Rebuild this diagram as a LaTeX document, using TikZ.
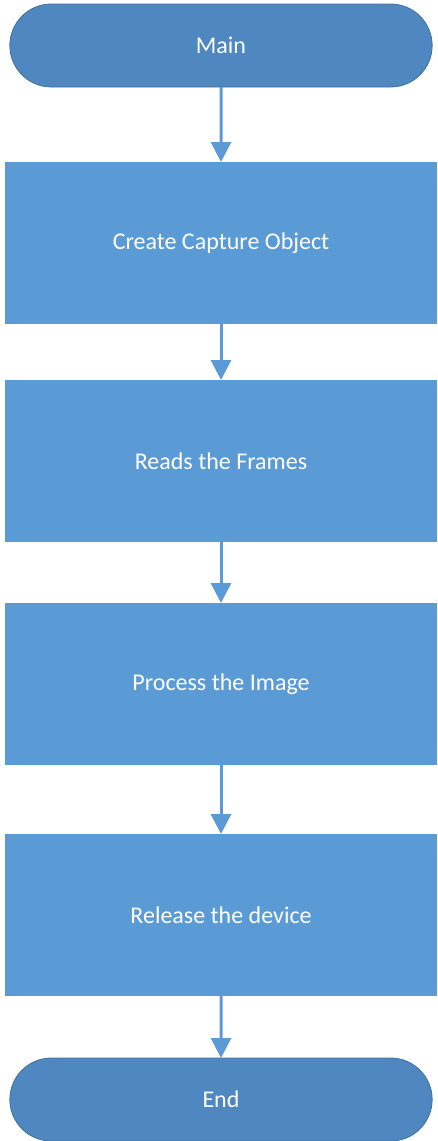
\documentclass[tikz,border=0pt]{standalone}
\usepackage{fontspec}
\setmainfont{Carlito}
\usetikzlibrary{positioning, arrows.meta, shapes.misc}

\definecolor{stepblue}{RGB}{91,155,213}
\definecolor{termblue}{RGB}{79,136,192}
\definecolor{termline}{RGB}{65,113,156}

\begin{document}
\begin{tikzpicture}[
    x=1pt, y=1pt,
    >={Triangle[width=20pt, length=20pt]},
    % Styles
    terminal/.style={rounded rectangle, draw=termline, line width=0.8pt, fill=termblue, minimum width=429pt, minimum height=83pt, outer sep=0pt, text=white, font=\fontsize{24}{28}\selectfont},
    stepbox/.style={rectangle, fill=stepblue, minimum width=432pt, minimum height=162pt, outer sep=0pt, text=white, font=\fontsize{24}{28}\selectfont},
    flow/.style={->, line width=3pt, draw=stepblue}
    ]

    % Fix the page to the reference size
    \useasboundingbox (0,0) rectangle (437,-1141);

    % 1. Start
    \node (main) [terminal] at (221,-45.5) {Main};

    % 2. Steps
    \node (capture) [stepbox, below=75pt of main] {Create Capture Object};
    \node (frames) [stepbox, below=56pt of capture] {Reads the Frames};
    \node (process) [stepbox, below=61pt of frames] {Process the Image};
    \node (release) [stepbox, below=69pt of process] {Release the device};

    % 3. Stop
    \node (end) [terminal, below=62pt of release] {End};

    % Connections / Arrows
    \draw[flow] (main) -- (capture);
    \draw[flow] (capture) -- (frames);
    \draw[flow] (frames) -- (process);
    \draw[flow] (process) -- (release);
    \draw[flow] (release) -- (end);
\end{tikzpicture}
\end{document}
